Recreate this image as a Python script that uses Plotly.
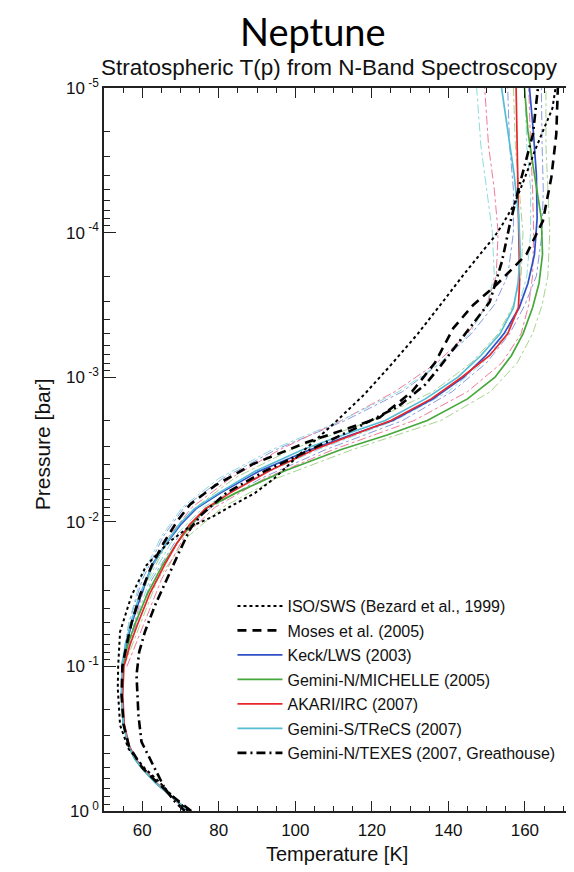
import plotly.graph_objects as go

# ---------------- data (temperature in K, log10 pressure in bar) ----------------
iso_logp = [0.0, -0.1, -0.2, -0.3, -0.43, -0.594, -0.85, -1.0, -1.24, -1.49, -1.7, -1.86, -1.96,
            -2.03, -2.12, -2.2, -2.3, -2.5, -2.69, -2.88, -3.085, -3.3, -3.52, -3.71, -3.89, -3.97,
            -4.05, -4.2, -4.38, -4.56, -4.72, -4.86, -5.0]
iso_T = [72.0, 68.0, 64.5, 60.5, 56.4, 54.2, 53.6, 53.7, 54.2, 57.2, 61.1, 67.0, 72.0,
         78.0, 84.0, 89.5, 94.5, 102.5, 110.5, 118.0, 125.0, 132.0, 138.5, 144.0, 149.5, 152.0,
         154.0, 157.3, 160.0, 162.5, 165.0, 167.2, 168.0]

moses_logp = [0.0, -0.1, -0.2, -0.3, -0.45, -0.6, -0.8, -1.0, -1.15, -1.3, -1.5, -1.7, -1.85, -2.0,
              -2.12, -2.25, -2.4, -2.55, -2.72, -2.9, -3.1, -3.34, -3.5, -3.64, -3.85, -4.08,
              -4.38, -4.68, -5.0]
moses_T = [72.8, 68.0, 63.8, 60.0, 56.5, 55.1, 54.6, 54.8, 55.9, 57.2, 59.5, 62.5, 65.5, 69.0,
           72.5, 79.0, 89.0, 103.0, 122.0, 130.5, 136.5, 141.3, 146.5, 152.6, 160.4, 164.7,
           166.9, 168.2, 168.6]

texes_logp = [0.0, -0.066, -0.15, -0.294, -0.4, -0.478, -0.663, -0.8, -0.94, -1.1, -1.24, -1.42,
              -1.63, -1.8, -1.95, -2.05, -2.2, -2.35, -2.5, -2.65, -2.8, -2.95, -3.08, -3.3,
              -3.52, -3.8, -4.05, -4.33, -4.68, -5.0]
texes_T = [71.1, 68.5, 66.0, 63.3, 61.2, 59.8, 59.0, 58.7, 58.5, 59.2, 60.7, 63.3,
           66.8, 69.8, 72.5, 75.5, 82.0, 92.0, 104.0, 116.0, 127.0, 134.0, 138.0, 144.5,
           150.8, 154.0, 156.0, 158.6, 162.1, 163.4]

# retrievals share one pressure grid
ret_logp = [0.0, -0.1, -0.2, -0.3, -0.36, -0.45, -0.6, -0.8, -1.0, -1.15, -1.3, -1.5, -1.7, -1.85,
            -1.98, -2.09, -2.2, -2.35, -2.5, -2.6, -2.7, -2.85, -3.0, -3.15, -3.3, -3.48, -3.65,
            -3.85, -4.1, -4.4, -4.7, -5.0]
keck_T = [72.0, 67.5, 63.3, 59.8, 58.1, 56.4, 55.1, 54.6, 54.8, 55.8, 57.3, 59.8, 62.5, 66.3,
          70.0, 74.0, 80.5, 90.5, 104.0, 114.5, 125.5, 136.0, 144.0, 149.8, 154.5, 158.5, 160.8,
          162.5, 163.2, 163.0, 162.2, 161.2]
michelle_T = [72.0, 67.5, 63.3, 59.8, 58.1, 56.4, 55.1, 54.6, 54.9, 56.2, 58.2, 61.3, 65.3, 69.0,
              72.8, 76.5, 84.5, 97.0, 112.0, 124.0, 134.5, 145.0, 152.2, 156.5, 159.5, 162.0, 163.7,
              164.6, 164.3, 162.5, 160.8, 159.9]
akari_T = [72.0, 67.6, 63.5, 60.0, 58.3, 56.6, 55.3, 54.9, 55.2, 56.8, 58.9, 61.9, 65.8, 69.0,
           72.3, 76.5, 83.0, 93.0, 105.0, 115.0, 125.0, 135.5, 143.5, 150.8, 155.5, 158.3, 158.6,
           158.5, 158.3, 158.1, 157.9, 157.7]
trecs_T = [72.0, 67.5, 63.3, 59.8, 58.1, 56.4, 55.1, 54.6, 54.7, 55.6, 57.0, 59.4, 62.8, 66.2,
           69.6, 73.6, 80.0, 89.5, 102.0, 112.5, 123.5, 134.0, 142.5, 148.5, 153.5, 157.0, 158.2,
           158.8, 158.4, 157.2, 155.5, 153.9]

# thin uncertainty envelopes (upper atmosphere)
env_logp = [-1.0, -1.3, -1.6, -1.9, -2.1, -2.3, -2.5, -2.7, -2.9, -3.1, -3.3, -3.5, -3.7, -4.0,
            -4.3, -4.6, -5.0]
keck_lo_T = [54.5, 56.5, 60.0, 65.5, 71.0, 81.0, 95.0, 113.0, 128.0, 138.0, 146.0, 152.0, 155.5,
             157.0, 157.0, 156.0, 155.5]
keck_hi_T = [55.0, 58.5, 62.5, 69.5, 78.0, 91.0, 108.0, 128.0, 141.0, 150.0, 156.0, 160.0, 163.0,
             164.5, 164.8, 164.5, 164.3]
mich_lo_T = [54.6, 57.0, 61.5, 67.5, 74.0, 84.0, 99.0, 120.0, 136.0, 146.0, 153.0, 157.0, 159.0,
             159.5, 158.5, 157.5, 157.0]
mich_hi_T = [55.2, 59.5, 64.0, 72.0, 81.0, 95.0, 115.0, 138.0, 151.0, 158.0, 162.0, 164.5, 166.0,
             166.5, 166.0, 165.5, 165.5]
akari_lo_T = [55.0, 58.0, 61.0, 67.0, 73.0, 83.0, 96.0, 112.0, 126.0, 137.0, 145.0, 150.0, 152.5,
              153.0, 152.0, 150.5, 149.5]
akari_hi_T = [56.0, 60.5, 65.0, 71.0, 79.0, 92.0, 110.0, 131.0, 145.0, 154.0, 159.0, 161.0, 162.0,
              162.3, 162.0, 161.5, 161.0]
trecs_lo_T = [54.5, 56.5, 59.5, 65.0, 70.5, 80.0, 94.0, 112.0, 127.0, 138.0, 145.5, 150.0, 152.0,
              151.5, 150.0, 148.5, 147.4]
trecs_hi_T = [55.0, 58.0, 62.0, 68.5, 76.0, 89.0, 106.0, 126.0, 140.0, 149.0, 155.0, 158.5, 160.5,
              161.5, 161.5, 160.5, 160.0]

names = ["ISO/SWS (Bezard et al., 1999)", "Moses et al. (2005)", "Keck/LWS (2003)",
         "Gemini-N/MICHELLE (2005)", "AKARI/IRC (2007)", "Gemini-S/TReCS (2007)",
         "Gemini-N/TEXES (2007, Greathouse)"]

x_ticks = [60, 80, 100, 120, 140, 160]
y_exps = [-5, -4, -3, -2, -1, 0]

BLUE, GREEN, RED, CYAN = "#3050c8", "#46a83a", "#e8262b", "#55bcd6"
SANS = "Liberation Sans, Arial, sans-serif"

# plot-area geometry (pixels)
L, R, T0, B = 96, 574, 80, 803


def P(logs):
    return [10 ** v for v in logs]


def paper(px, py):
    return (px - L) / (R - L), (B - py) / (B - T0)


fig = go.Figure()

envs = [(keck_lo_T, "#8a9be0"), (keck_hi_T, "#8a9be0"), (mich_lo_T, "#a6d48e"),
        (mich_hi_T, "#a6d48e"), (akari_lo_T, "#f07a98"), (akari_hi_T, "#f07a98"),
        (trecs_lo_T, "#8fdcdc"), (trecs_hi_T, "#8fdcdc")]
for Tv, c in envs:
    fig.add_trace(go.Scatter(x=Tv, y=P(env_logp), mode="lines", showlegend=False,
                             hoverinfo="skip",
                             line=dict(color=c, width=1, dash="dashdot")))

solid = [(keck_T, BLUE, names[2], 3), (michelle_T, GREEN, names[3], 4),
         (akari_T, RED, names[4], 5), (trecs_T, CYAN, names[5], 6)]
for Tv, c, n, r in solid:
    fig.add_trace(go.Scatter(x=Tv, y=P(ret_logp), mode="lines", name=n, legendrank=r,
                             legendgroup=n, line=dict(color=c, width=1.7)))

fig.add_trace(go.Scatter(x=iso_T, y=P(iso_logp), mode="lines", name=names[0], legendrank=1,
                         legendgroup=names[0], line=dict(color="black", width=2, dash="dot")))
fig.add_trace(go.Scatter(x=moses_T, y=P(moses_logp), mode="lines", name=names[1], legendrank=2,
                         legendgroup=names[1],
                         line=dict(color="black", width=2.6, dash="9px,6px")))
fig.add_trace(go.Scatter(x=texes_T, y=P(texes_logp), mode="lines", name=names[6], legendrank=7,
                         legendgroup=names[6],
                         line=dict(color="black", width=2.6, dash="9px,4px,2px,4px")))

minor_y = [k * 10.0 ** d for d in range(-5, 0) for k in range(2, 10)]

lx, ly = paper(225, 581)
tx1, ty1 = paper(306, 23)
tx2, ty2 = paper(322, 59)
xx, xy = paper(330, 846)
yx, yy = paper(34, 436)

fig.update_layout(
    width=574, height=872,
    margin=dict(l=L, r=574 - R, t=T0, b=872 - B),
    paper_bgcolor="white", plot_bgcolor="white",
    showlegend=True,
    legend=dict(x=lx, y=ly, xanchor="left", yanchor="top", itemwidth=45,
                bgcolor="rgba(0,0,0,0)", font=dict(family=SANS, size=16, color="#111"),
                tracegroupgap=0.7, traceorder="grouped"),
    annotations=[
        dict(text="Neptune", x=tx1, y=ty1, xref="paper", yref="paper", showarrow=False,
             xanchor="center", yanchor="middle",
             font=dict(family="Lato, Noto Sans, sans-serif", size=38, color="black")),
        dict(text="Stratospheric T(p) from N-Band Spectroscopy", x=tx2, y=ty2, xref="paper",
             yref="paper", showarrow=False, xanchor="center", yanchor="middle",
             font=dict(family=SANS, size=22.5, color="#111")),
        dict(text="Temperature [K]", x=xx, y=xy, xref="paper", yref="paper", showarrow=False,
             xanchor="center", yanchor="middle",
             font=dict(family=SANS, size=20, color="#111")),
        dict(text="Pressure [bar]", x=yx, y=yy, xref="paper", yref="paper", showarrow=False,
             xanchor="center", yanchor="middle", textangle=-90,
             font=dict(family=SANS, size=21, color="#111")),
    ],
)

fig.update_xaxes(
    range=[50, 174.4], tickvals=x_ticks, ticks="inside", ticklen=10, tickwidth=1.2,
    tickcolor="#222", showline=True, linecolor="#222", linewidth=1.5, mirror="ticks",
    showgrid=False, zeroline=False,
    tickfont=dict(family=SANS, size=17, color="#111"), ticklabelstandoff=3,
    minor=dict(dtick=5, tick0=50, ticks="inside", ticklen=5, tickcolor="#222", showgrid=False),
)
fig.update_yaxes(
    type="log", range=[0, -5], tickvals=[10.0 ** e for e in y_exps],
    ticktext=["10<sup> %d</sup>" % e for e in y_exps],
    ticks="inside", ticklen=12, tickwidth=1.2, tickcolor="#222",
    showline=True, linecolor="#222", linewidth=1.5, mirror="ticks",
    showgrid=False, zeroline=False,
    tickfont=dict(family=SANS, size=17, color="#111"),
    minor=dict(tickvals=minor_y, ticks="inside", ticklen=6, tickcolor="#222", showgrid=False),
)

fig.write_html("out.html")
